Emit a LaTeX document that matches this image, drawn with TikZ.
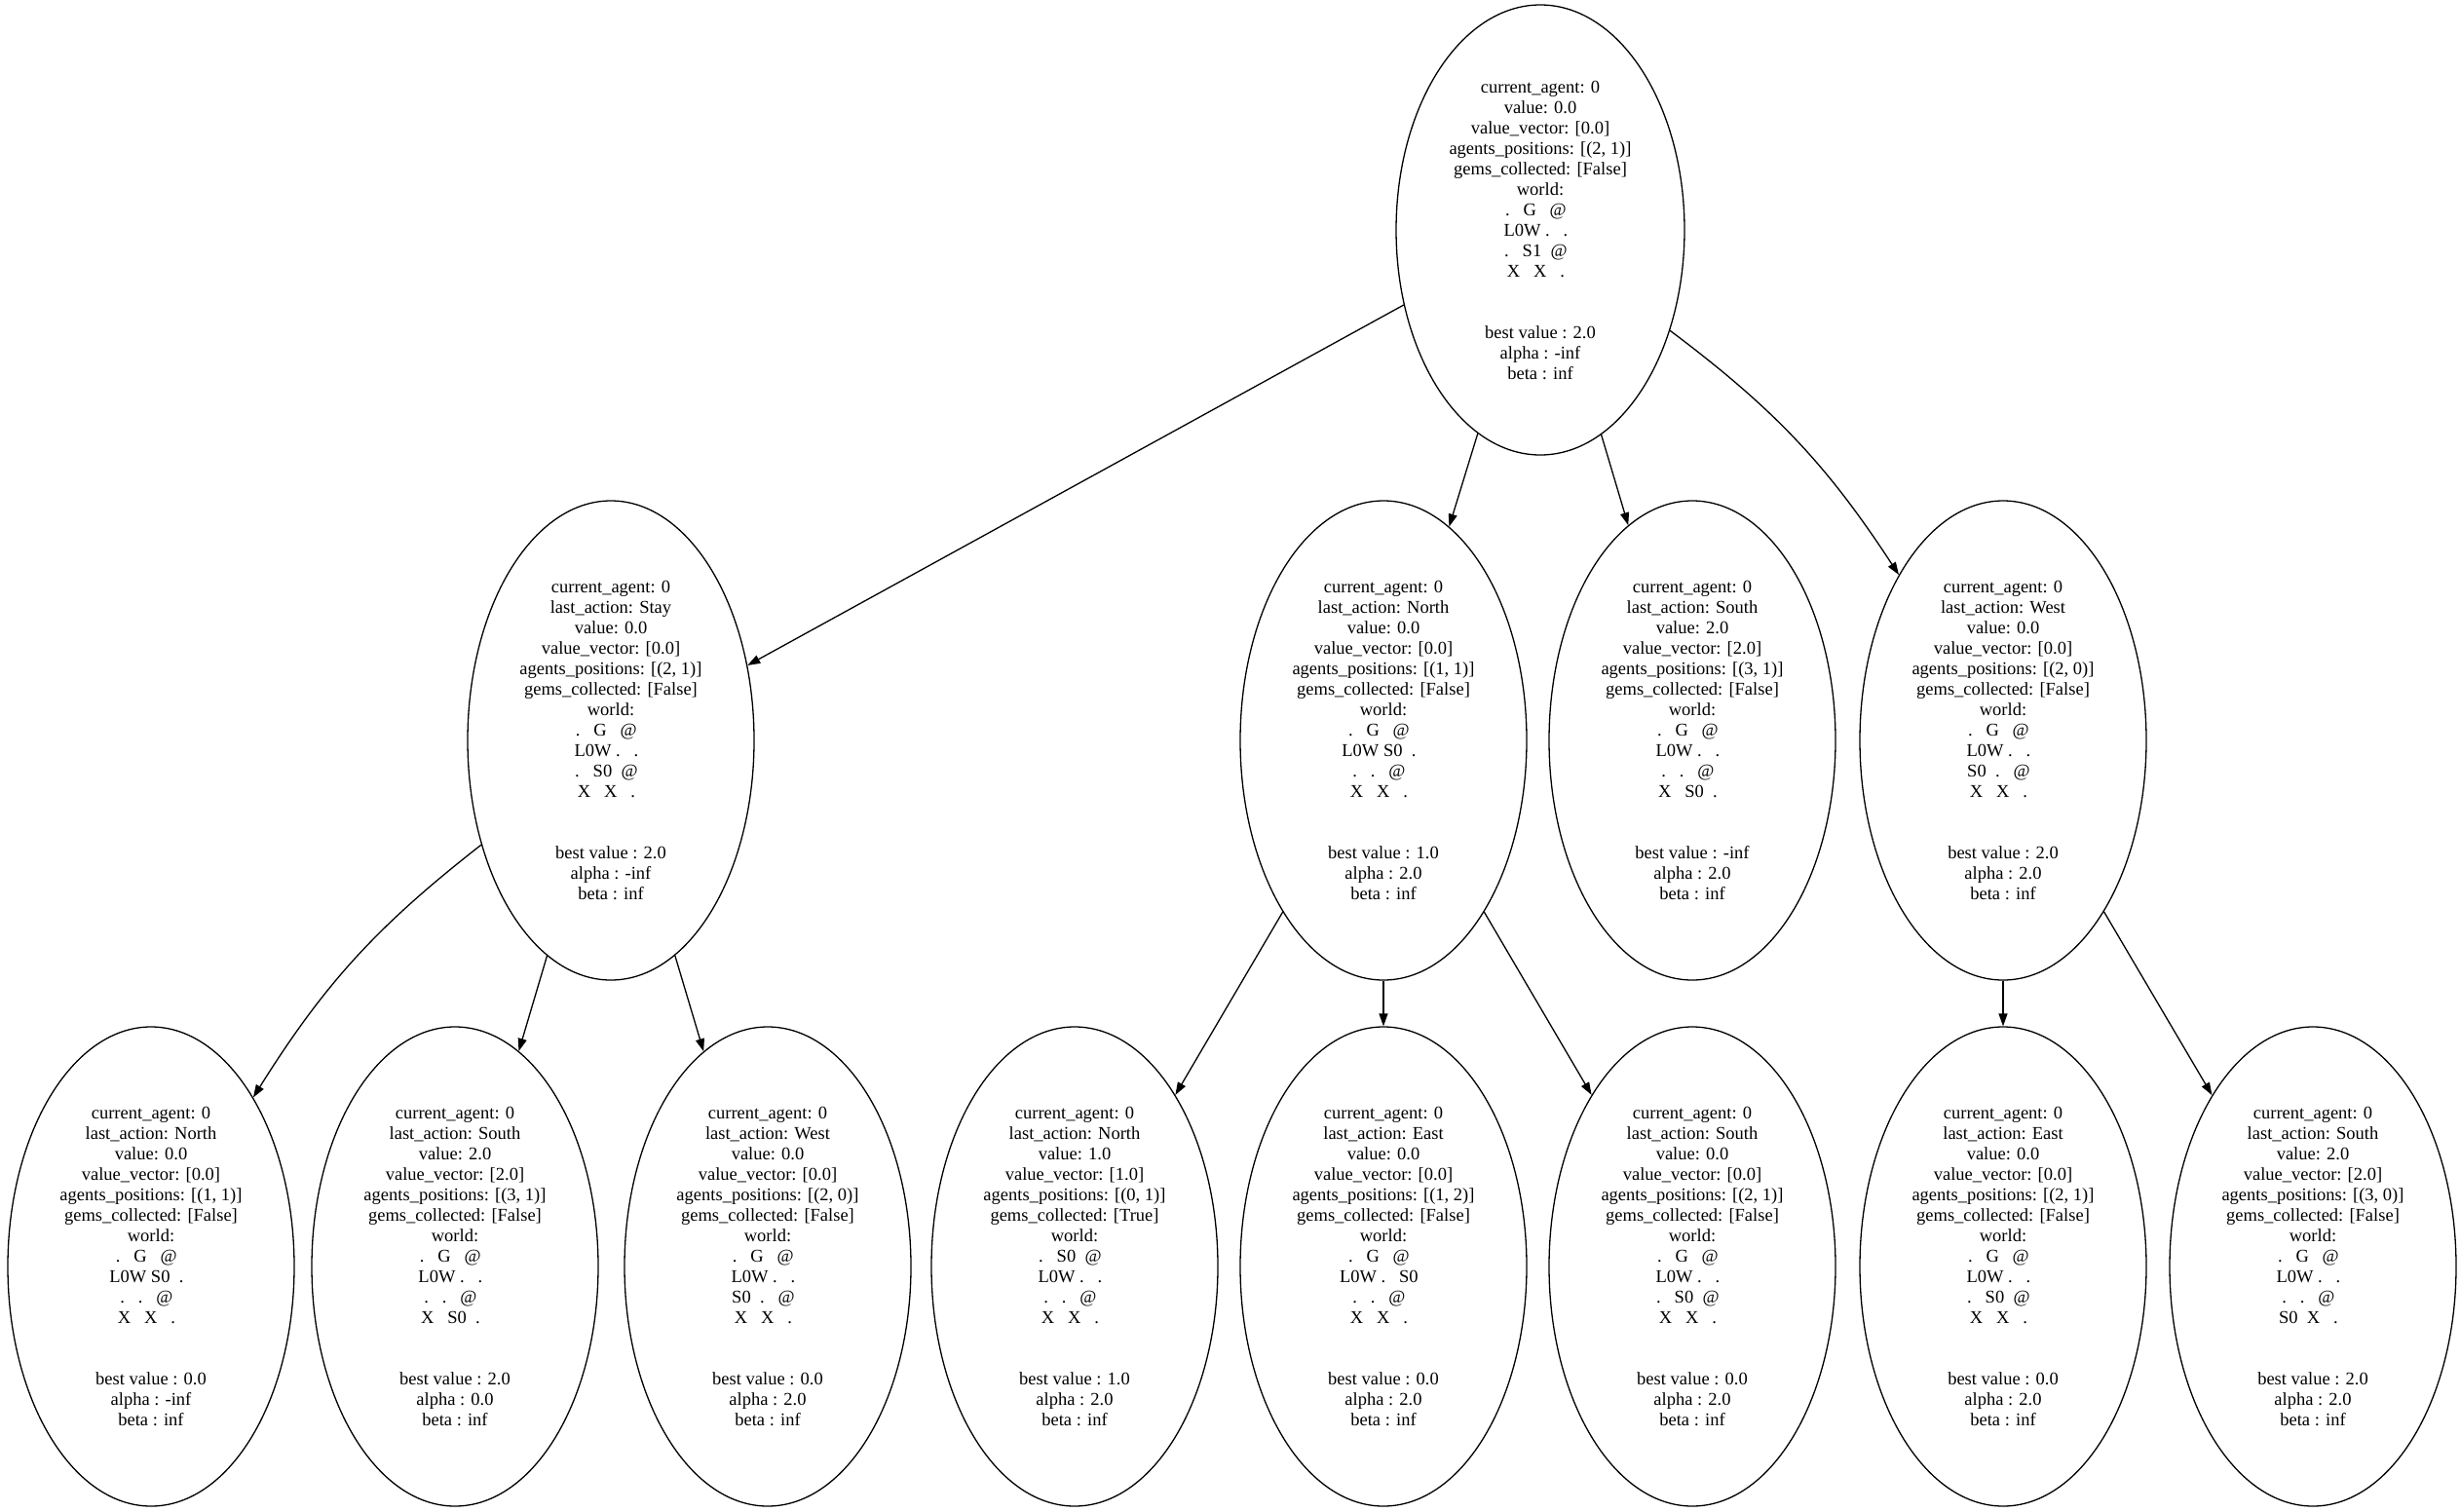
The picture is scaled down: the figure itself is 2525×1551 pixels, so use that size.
\documentclass[tikz,border=0pt]{standalone}
\usepackage{fontspec}
\setmainfont{Liberation Serif}
\usetikzlibrary{shapes.geometric, arrows.meta}

% spacing of the world grid cells
\newcommand{\gapA}{\ \ \ }
\newcommand{\gapB}{\ \ }
\newcommand{\world}[4]{world:\\#1\gapB\mbox{}\\#2\gapB\mbox{}\\#3\gapB\mbox{}\\#4\gapB\mbox{}\\[42pt]}
\newcommand{\scores}[3]{best value : #1\\alpha : #2\\beta : #3}

\begin{document}
\begin{tikzpicture}[
  x=1pt, y=-1pt,
  state/.style={draw, ellipse, line width=1.3pt, inner sep=0pt, minimum width=294pt, minimum height=492pt, align=center, font=\fontsize{18.5}{21}\selectfont},
  top/.style={state, minimum width=296pt, minimum height=462pt},
  move/.style={-{Triangle[length=13pt, width=9pt]}, line width=1.3pt}
]
\useasboundingbox (0,0) rectangle (2525,1551);

% root
\node[top] (root) at (1581,236) {current\_agent: 0\\value: 0.0\\value\_vector: [0.0]\\agents\_positions: [(2, 1)]\\gems\_collected: [False]\\\world{.\gapA G\gapA @}{L0W\ .\gapA .}{.\gapA S1\gapB @}{X\gapA X\gapA .}\scores{2.0}{-inf}{inf}};

% first moves
\node[state] (stay) at (627,760) {current\_agent: 0\\last\_action: Stay\\value: 0.0\\value\_vector: [0.0]\\agents\_positions: [(2, 1)]\\gems\_collected: [False]\\\world{.\gapA G\gapA @}{L0W\ .\gapA .}{.\gapA S0\gapB @}{X\gapA X\gapA .}\scores{2.0}{-inf}{inf}};
\node[state] (north) at (1420,760) {current\_agent: 0\\last\_action: North\\value: 0.0\\value\_vector: [0.0]\\agents\_positions: [(1, 1)]\\gems\_collected: [False]\\\world{.\gapA G\gapA @}{L0W\ S0\gapB .}{.\gapA .\gapA @}{X\gapA X\gapA .}\scores{1.0}{2.0}{inf}};
\node[state] (south) at (1737,760) {current\_agent: 0\\last\_action: South\\value: 2.0\\value\_vector: [2.0]\\agents\_positions: [(3, 1)]\\gems\_collected: [False]\\\world{.\gapA G\gapA @}{L0W\ .\gapA .}{.\gapA .\gapA @}{X\gapA S0\gapB .}\scores{-inf}{2.0}{inf}};
\node[state] (west) at (2056,760) {current\_agent: 0\\last\_action: West\\value: 0.0\\value\_vector: [0.0]\\agents\_positions: [(2, 0)]\\gems\_collected: [False]\\\world{.\gapA G\gapA @}{L0W\ .\gapA .}{S0\gapB .\gapA @}{X\gapA X\gapA .}\scores{2.0}{2.0}{inf}};

% second moves
\node[state] (stayN) at (155,1300) {current\_agent: 0\\last\_action: North\\value: 0.0\\value\_vector: [0.0]\\agents\_positions: [(1, 1)]\\gems\_collected: [False]\\\world{.\gapA G\gapA @}{L0W\ S0\gapB .}{.\gapA .\gapA @}{X\gapA X\gapA .}\scores{0.0}{-inf}{inf}};
\node[state] (stayS) at (467,1300) {current\_agent: 0\\last\_action: South\\value: 2.0\\value\_vector: [2.0]\\agents\_positions: [(3, 1)]\\gems\_collected: [False]\\\world{.\gapA G\gapA @}{L0W\ .\gapA .}{.\gapA .\gapA @}{X\gapA S0\gapB .}\scores{2.0}{0.0}{inf}};
\node[state] (stayW) at (788,1300) {current\_agent: 0\\last\_action: West\\value: 0.0\\value\_vector: [0.0]\\agents\_positions: [(2, 0)]\\gems\_collected: [False]\\\world{.\gapA G\gapA @}{L0W\ .\gapA .}{S0\gapB .\gapA @}{X\gapA X\gapA .}\scores{0.0}{2.0}{inf}};
\node[state] (northN) at (1103,1300) {current\_agent: 0\\last\_action: North\\value: 1.0\\value\_vector: [1.0]\\agents\_positions: [(0, 1)]\\gems\_collected: [True]\\\world{.\gapA S0\gapB @}{L0W\ .\gapA .}{.\gapA .\gapA @}{X\gapA X\gapA .}\scores{1.0}{2.0}{inf}};
\node[state] (northE) at (1420,1300) {current\_agent: 0\\last\_action: East\\value: 0.0\\value\_vector: [0.0]\\agents\_positions: [(1, 2)]\\gems\_collected: [False]\\\world{.\gapA G\gapA @}{L0W\ .\gapA S0}{.\gapA .\gapA @}{X\gapA X\gapA .}\scores{0.0}{2.0}{inf}};
\node[state] (northS) at (1737,1300) {current\_agent: 0\\last\_action: South\\value: 0.0\\value\_vector: [0.0]\\agents\_positions: [(2, 1)]\\gems\_collected: [False]\\\world{.\gapA G\gapA @}{L0W\ .\gapA .}{.\gapA S0\gapB @}{X\gapA X\gapA .}\scores{0.0}{2.0}{inf}};
\node[state] (westE) at (2056,1300) {current\_agent: 0\\last\_action: East\\value: 0.0\\value\_vector: [0.0]\\agents\_positions: [(2, 1)]\\gems\_collected: [False]\\\world{.\gapA G\gapA @}{L0W\ .\gapA .}{.\gapA S0\gapB @}{X\gapA X\gapA .}\scores{0.0}{2.0}{inf}};
\node[state] (westS) at (2374,1300) {current\_agent: 0\\last\_action: South\\value: 2.0\\value\_vector: [2.0]\\agents\_positions: [(3, 0)]\\gems\_collected: [False]\\\world{.\gapA G\gapA @}{L0W\ .\gapA .}{.\gapA .\gapA @}{S0\gapB X\gapA .}\scores{2.0}{2.0}{inf}};

\draw[move] (root) -- (stay);
\draw[move] (root) -- (north);
\draw[move] (root) -- (south);
\draw[move] (root) to[bend left=10] (west);
\draw[move] (stay) to[bend right=10] (stayN);
\draw[move] (stay) -- (stayS);
\draw[move] (stay) -- (stayW);
\draw[move] (north) -- (northN);
\draw[move] (north) -- (northE);
\draw[move] (north) -- (northS);
\draw[move] (west) -- (westE);
\draw[move] (west) -- (westS);
\end{tikzpicture}
\end{document}
